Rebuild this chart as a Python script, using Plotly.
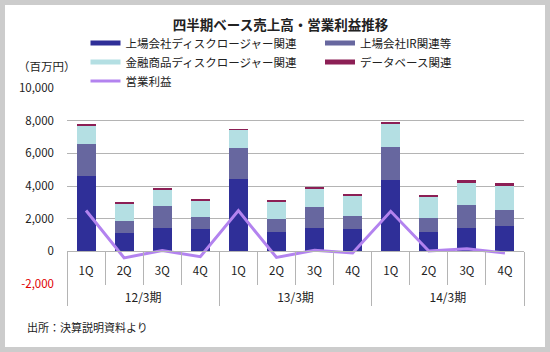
import plotly.graph_objects as go

# ---------------- data ----------------
periods = ["12/3期", "13/3期", "14/3期"]
quarters = ["1Q", "2Q", "3Q", "4Q"]
series_names = ["上場会社ディスクロージャー関連", "上場会社IR関連等",
                "金融商品ディスクロージャー関連", "データベース関連"]
listed_disclosure = [4600, 1150, 1450, 1380, 4450, 1200, 1400, 1390, 4390, 1190, 1410, 1570]
listed_ir = [2000, 710, 1330, 720, 1880, 760, 1330, 800, 2020, 860, 1400, 980]
financial_disclosure = [1100, 1060, 1020, 1010, 1100, 1100, 1100, 1220, 1410, 1280, 1390, 1470]
database = [60, 100, 100, 100, 60, 100, 100, 120, 120, 120, 140, 140]
profit_name = "営業利益"
operating_profit = [2500, -400, 50, -330, 2490, -370, 60, -100, 2450, 20, 160, -100]
y_ticks = [-2000, 0, 2000, 4000, 6000, 8000, 10000]
title_text = "四半期ベース売上高・営業利益推移"
unit_text = "（百万円）"
source_text = "出所：決算説明資料より"

colors = ["#2f2f98", "#67679f", "#b4dfe3", "#8c1f55"]
legend_of_series = ["legend", "legend2", "legend", "legend2"]
line_color = "#b383ef"
grid_color = "#b4b4b4"
font_family = "Noto Sans CJK JP"
text_color = "#222222"

# ---------------- geometry ----------------
W, H = 550, 352
L, R, T, B = 67, 26, 88, 68
PW, PH = W - L - R, H - T - B


def fx(px):
    return (px - L) / PW


def fy(py):
    return (H - B - py) / PH


n_q = len(quarters)
x_inner = [q for _ in periods for q in quarters]
n = len(x_inner)
pos = list(range(n))                      # category slots
q_bounds = [i - 0.5 for i in range(n + 1)]
g_centers = [k * n_q + (n_q - 1) / 2 for k in range(len(periods))]
g_bounds = [k * n_q - 0.5 for k in range(len(periods) + 1)]
ymin, ymax = y_ticks[0], y_ticks[-1]
zero_pos = (0 - ymin) / (ymax - ymin)
xr = [-0.5, n - 0.5]

fig = go.Figure()
for name, vals, c in zip(series_names,
                         [listed_disclosure, listed_ir, financial_disclosure, database],
                         colors):
    fig.add_trace(go.Bar(x=pos, y=vals, name=name, marker=dict(color=c, line=dict(width=0)),
                         showlegend=False, legendgroup=name))
# legend swatches (wide bars like the original)
for name, c, lg in zip(series_names, colors, legend_of_series):
    fig.add_trace(go.Scatter(x=[None], y=[None], mode="lines", name=name, legendgroup=name,
                             legend=lg, line=dict(color=c, width=5)))
fig.add_trace(go.Scatter(x=pos, y=operating_profit, mode="lines", name=profit_name,
                         xaxis="x2", legend="legend",
                         line=dict(color=line_color, width=3)))

legend_common = dict(orientation="v", xanchor="left", yanchor="top",
                     bgcolor="rgba(0,0,0,0)", font=dict(size=11.5), traceorder="normal")

fig.update_layout(
    width=W, height=H,
    margin=dict(l=L, r=R, t=T, b=B),
    paper_bgcolor="#cccccc",
    plot_bgcolor="rgba(0,0,0,0)",
    barmode="stack",
    bargap=0.5,
    font=dict(family=font_family, size=11.5, color=text_color),
    title=dict(text=title_text, x=280.5 / W, xanchor="center",
               y=1 - 25 / H, yanchor="middle",
               font=dict(size=13.5, weight="bold", color=text_color)),
    showlegend=True,
    legend=dict(legend_common, x=fx(85.5), y=fy(28.5)),
    legend2=dict(legend_common, x=fx(320), y=fy(28.5)),
    xaxis=dict(range=xr, anchor="free", position=zero_pos,
               tickvals=pos, ticktext=x_inner, ticks="", ticklabelstandoff=9,
               showgrid=False, zeroline=False,
               showline=True, linecolor=grid_color, linewidth=1,
               minor=dict(tickvals=q_bounds, ticks="outside", ticklen=33,
                          tickcolor=grid_color, tickwidth=1, showgrid=False)),
    xaxis2=dict(overlaying="x", range=xr, anchor="free", position=zero_pos,
                tickvals=g_centers, ticktext=periods, ticks="", ticklabelstandoff=38,
                tickfont=dict(size=12),
                showgrid=False, zeroline=False, showline=False,
                minor=dict(tickvals=g_bounds, ticks="outside", ticklen=54,
                           tickcolor=grid_color, tickwidth=1, showgrid=False)),
    yaxis=dict(range=[ymin, ymax], tickvals=y_ticks,
               ticktext=[('<span style="color:#e00000">%s</span>' % f"{v:,}") if v < 0 else f"{v:,}"
                         for v in y_ticks],
               showgrid=True, gridcolor=grid_color, gridwidth=1, zeroline=False,
               showline=False, ticks="", ticklabelstandoff=12),
    shapes=[dict(type="rect", xref="paper", yref="paper", x0=fx(5), x1=fx(545),
                 y0=fy(347), y1=fy(5), fillcolor="white", line=dict(width=0), layer="below")],
    annotations=[
        dict(text=unit_text, xref="paper", yref="paper", x=fx(46.7), y=fy(65.7),
             xanchor="center", yanchor="middle", showarrow=False, font=dict(size=11.5)),
        dict(text=source_text, xref="paper", yref="paper", x=fx(25), y=fy(327.3),
             xanchor="left", yanchor="middle", showarrow=False, font=dict(size=11)),
    ],
)

fig.write_html("out.html")
